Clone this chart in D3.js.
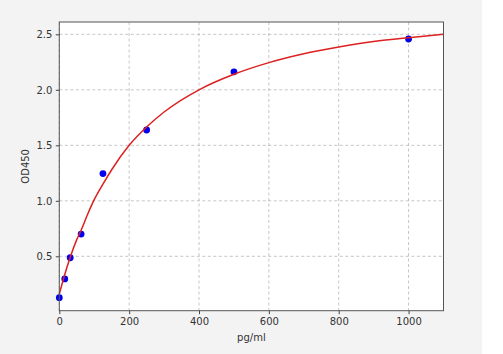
<!DOCTYPE html>
<html>
<head>
<meta charset="utf-8">
<script src="https://cdn.jsdelivr.net/npm/d3@7"></script>
<style>
	body{margin:0;background:#fff;}
	svg{display:block;}
	.tick text{font-family:"DejaVu Sans",sans-serif;font-size:10px;fill:#333;}
	.tick line{stroke:#444;}
</style>
</head>
<body>
<div class="chart"></div>
<script>
// standards (pg/ml) and measured OD450
const concs=[0,15.625,31.25,62.5,125,250,500,1000]
const ods=[0.127,0.296,0.487,0.70,1.245,1.638,2.162,2.458]

// fitted curve
const fitX=[0,15,31,50,62.5,80,100,125,150,200,250,300,400,500,600,700,800,900,1000,1100]
const fitY=[0.16,0.33,0.49,0.65,0.735,0.87,1.01,1.15,1.28,1.50,1.665,1.80,2.00,2.14,2.245,2.325,2.385,2.435,2.47,2.50]

const xTicks=[0,200,400,600,800,1000]
const yTicks=[0.5,1.0,1.5,2.0,2.5]

const W=503,H=354
const margin=({top:22,right:59.5,bottom:43.3,left:59.3})
const width=W-margin.left-margin.right,
	height=H-margin.top-margin.bottom

const root=d3.select('.chart').append('svg')
	.attr('width',W)
	.attr('height',H)

root.append('rect')
	.attr('x',0).attr('y',0)
	.attr('width',482).attr('height',H)
	.attr('fill','#f3f3f3')

const svg=root.append('g')
	.attr('transform','translate('+margin.left+','+margin.top+')')

svg.append('rect')
	.attr('width',width).attr('height',height)
	.attr('fill','#fff')

const xScale=d3.scaleLinear().domain([0,1100]).range([0,width])
const yScale=d3.scaleLinear().domain([0.01,2.611]).range([height,0])

// grid
svg.selectAll('.vgrid').data(xTicks).enter()
	.append('line')
	.attr('class','vgrid')
	.attr('x1',d=>xScale(d)).attr('x2',d=>xScale(d))
	.attr('y1',0).attr('y2',height)
	.attr('stroke','#b8b8b8').attr('stroke-width',0.8)
	.attr('stroke-dasharray','3,2.5')

svg.selectAll('.hgrid').data(yTicks).enter()
	.append('line')
	.attr('class','hgrid')
	.attr('x1',0).attr('x2',width)
	.attr('y1',d=>yScale(d)).attr('y2',d=>yScale(d))
	.attr('stroke','#b8b8b8').attr('stroke-width',0.8)
	.attr('stroke-dasharray','3,2.5')

const xAxis=d3.axisBottom(xScale)
	.tickValues(xTicks)
	.tickSize(3.5)
	.tickPadding(3.5)
	.tickFormat(d3.format('d'))

const yAxis=d3.axisLeft(yScale)
	.tickValues(yTicks)
	.tickSize(3.5)
	.tickPadding(3.5)
	.tickFormat(d3.format('.1f'))

svg.append('g')
	.attr('class','x-axis')
	.attr('transform',`translate(0,${height})`)
	.call(xAxis)
	.call(g=>g.select('.domain').remove())

svg.append('g')
	.attr('class','y-axis')
	.call(yAxis)
	.call(g=>g.select('.domain').remove())

// points
svg.selectAll('.pts')
	.data(concs.map((c,i)=>({x:c,y:ods[i]})))
	.enter()
	.append('circle')
	.attr('class','pts')
	.attr('cx',d=>xScale(d.x))
	.attr('cy',d=>yScale(d.y))
	.attr('r',3.4)
	.attr('fill','#0000ee')

// fitted curve
const line=d3.line()
	.x(d=>xScale(d.x))
	.y(d=>yScale(d.y))
	.curve(d3.curveMonotoneX)

svg.append('path')
	.datum(fitX.map((x,i)=>({x:x,y:fitY[i]})))
	.attr('d',line)
	.attr('fill','none')
	.attr('stroke','#dd2020')
	.attr('stroke-width',1.5)

// frame
svg.append('rect')
	.attr('width',width).attr('height',height)
	.attr('fill','none')
	.attr('stroke','#555')
	.attr('stroke-width',1)

svg.append('text')
	.attr('x',width/2)
	.attr('y',height+30.5)
	.attr('text-anchor','middle')
	.style('font-family','"DejaVu Sans",sans-serif')
	.style('font-size','10px')
	.attr('fill','#333')
	.text('pg/ml')

svg.append('text')
	.attr('transform',`translate(${-30.5},${height/2}) rotate(-90)`)
	.attr('text-anchor','middle')
	.style('font-family','"DejaVu Sans",sans-serif')
	.style('font-size','10px')
	.attr('fill','#333')
	.text('OD450')
</script>
</body>
</html>
